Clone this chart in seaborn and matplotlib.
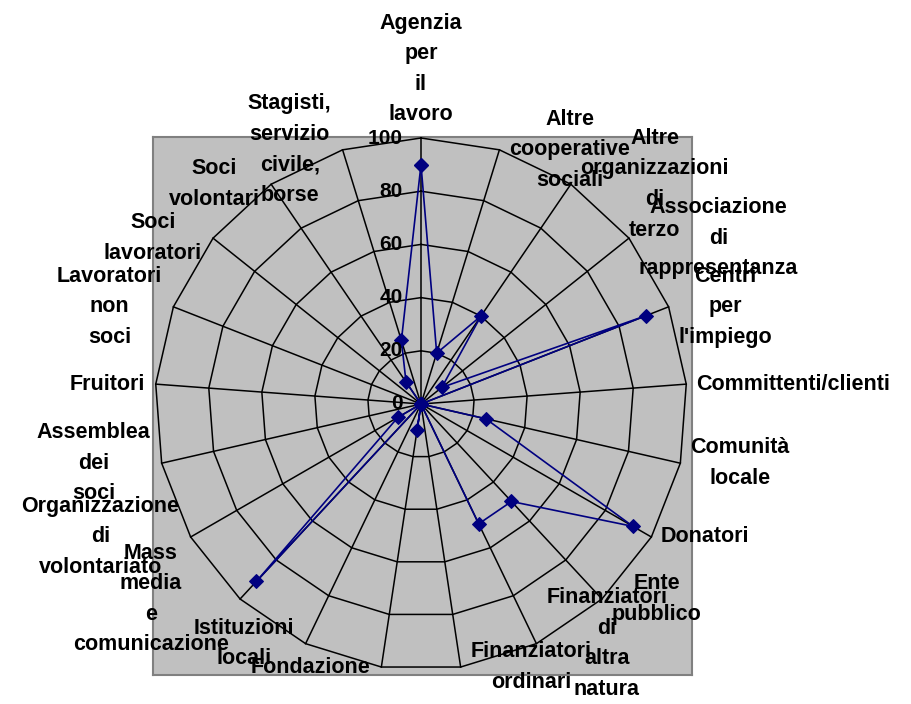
import numpy as np
import pandas as pd
import matplotlib
matplotlib.use("Agg")
import matplotlib.pyplot as plt
import seaborn as sns

categories = [
    "Agenzia per il lavoro", "Altre cooperative sociali", "Altre organizzazioni di terzo",
    "Associazione di rappresentanza", "Centri per l'impiego", "Committenti/clienti",
    "Comunità locale", "Donatori", "Ente pubblico", "Finanziatori di altra natura",
    "Finanziatori ordinari", "Fondazione", "Istituzioni locali", "Mass media e comunicazione",
    "Organizzazione di volontariato", "Assemblea dei soci", "Fruitori", "Lavoratori non soci",
    "Soci lavoratori", "Soci volontari", "Stagisti, servizio civile, borse",
]
values = [90, 20, 40, 10, 91, 0, 25, 92, 50, 50, 0, 10, 0, 91, 10, 0, 0, 0, 0, 10, 25]
tick_values = [0, 20, 40, 60, 80, 100]

plt.rcParams['font.family'] = ['Liberation Sans', 'DejaVu Sans']

n = len(categories)
theta = np.arange(n) * 2 * np.pi / n
theta_closed = np.append(theta, 2 * np.pi)
df = pd.DataFrame({'theta': theta_closed, 'value': values + values[:1]})

W, H = 911, 704
fig = plt.figure(figsize=(W / 100, H / 100), dpi=100)

# gray plot area
bg = fig.add_axes([153 / W, 1 - 675 / H, 539 / W, 538 / H])
bg.set_facecolor('#C0C0C0')
bg.set_xticks([])
bg.set_yticks([])
for s in bg.spines.values():
    s.set_color('#808080')
    s.set_linewidth(1.5)

cx, cy, R = 421, 404, 266
ax = fig.add_axes([(cx - R) / W, (H - cy - R) / H, 2 * R / W, 2 * R / H], projection='polar')
ax.patch.set_alpha(0)
ax.set_theta_zero_location('N')
ax.set_theta_direction(-1)
ax.set_ylim(0, 100)
ax.grid(False)
ax.set_xticks([])
ax.set_yticks([])
ax.spines['polar'].set_visible(False)

# polygon grid and spokes
for lev in tick_values[1:]:
    ax.plot(theta_closed, [lev] * (n + 1), color='black', lw=1.1, clip_on=False, zorder=1)
for t in theta:
    ax.plot([t, t], [0, 100], color='black', lw=1.1, clip_on=False, zorder=1)

sns.lineplot(data=df, x='theta', y='value', sort=False, estimator=None, color='#000080',
             lw=1.2, marker='D', markersize=7, markeredgecolor='#000080',
             ax=ax, zorder=3, clip_on=False)
ax.set_xlabel('')
ax.set_ylabel('')

for v in tick_values:
    ax.annotate(str(v), xy=(0, v), xytext=(-13, 0), textcoords='offset points',
                ha='right', va='center', fontsize=15, fontweight='bold', zorder=4)

for i, (t, lab) in enumerate(zip(theta, categories)):
    deg = np.degrees(t)
    txt = lab.replace(' ', '\n')
    if i == 0:
        ha, va, off = 'center', 'bottom', (0, 9)
    elif deg < 180:
        ha, va, off = 'left', 'center', (7, 0)
    else:
        ha, va, off = 'right', 'center', (-8, 0)
    ax.annotate(txt, xy=(t, 100), xytext=off, textcoords='offset points',
                ha=ha, va=va, multialignment='center', fontsize=15.5,
                fontweight='bold', linespacing=1.6, annotation_clip=False, zorder=5)

fig.savefig('out.png', dpi=100)
